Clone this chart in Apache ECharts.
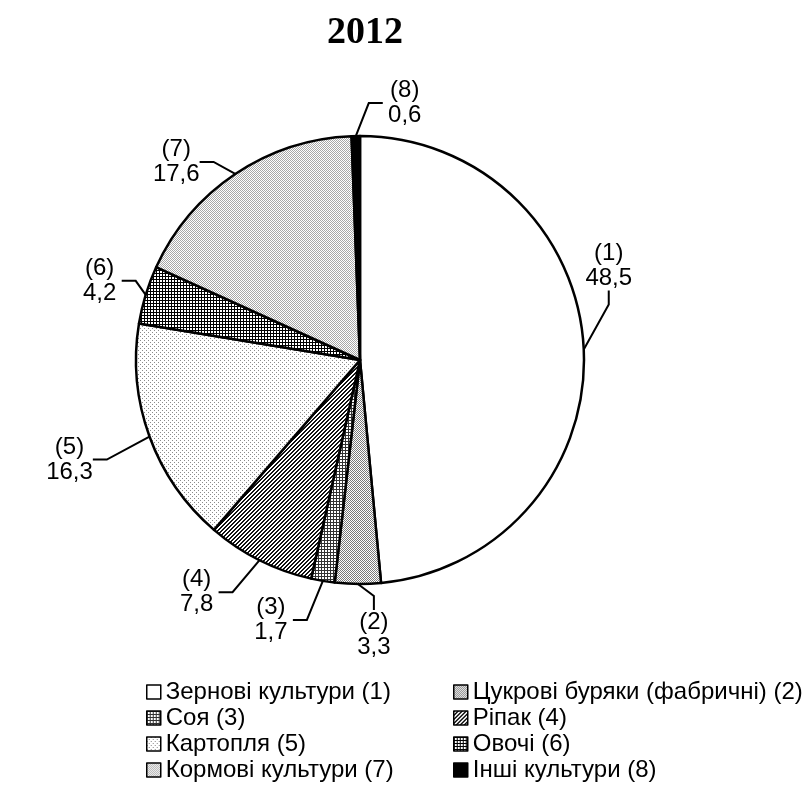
<!DOCTYPE html>
<html><head><meta charset="utf-8">
<script src="https://cdn.jsdelivr.net/npm/echarts@6/dist/echarts.min.js"></script>
<style>html,body{margin:0;padding:0;background:#fff}#c{width:805px;height:804px}</style>
</head><body><div id="c"></div>
<script>
const title = '2012';
const categories = ['Зернові культури (1)','Цукрові буряки (фабричні) (2)','Соя (3)','Ріпак (4)','Картопля (5)','Овочі (6)','Кормові культури (7)','Інші культури (8)'];
const shortLabels = ['(1)','(2)','(3)','(4)','(5)','(6)','(7)','(8)'];
const values = [48.5, 3.3, 1.7, 7.8, 16.3, 4.2, 17.6, 0.6];
const legendLeft = [categories[0], categories[2], categories[4], categories[6]];
const legendRight = [categories[1], categories[3], categories[5], categories[7]];
// label offsets (style): label centre relative to the slice's outer anchor point
const labelOffsets = [[25,-84],[16,51],[-52,39],[-63,32],[-80,23],[-46,-14],[-59,-12],[49,-33]];

function pat(size, draw){
  const c = document.createElement('canvas'); c.width = c.height = size;
  const x = c.getContext('2d'); x.fillStyle = '#fff'; x.fillRect(0,0,size,size);
  draw(x); return {image: c, repeat: 'repeat'};
}
const px = (x, col, pts) => { x.fillStyle = col; pts.forEach(p => x.fillRect(p[0], p[1], 1, 1)); };
const fills = [
  '#ffffff',
  pat(2, x => px(x, '#7a7a7a', [[0,0],[1,1]])),
  pat(3, x => { x.fillStyle = '#333'; x.fillRect(0,0,3,1); x.fillRect(0,0,1,3); }),
  pat(4, x => px(x, '#111', [[0,3],[1,2],[2,1],[3,0],[1,3],[2,2],[3,1],[0,0]])),
  pat(4, x => px(x, '#8a8a8a', [[0,0],[2,2]])),
  pat(3, x => { x.fillStyle = '#000'; x.fillRect(0,0,3,1); x.fillRect(0,0,1,3); }),
  pat(2, x => px(x, '#a8a8a8', [[0,0],[1,1]])),
  '#000000'
];

const chart = echarts.init(document.getElementById('c'), null, {renderer: 'canvas'});
const font = '"Liberation Sans", Arial, sans-serif';
const legendCommon = {
  orient: 'vertical', top: 674, itemWidth: 14, itemHeight: 14, itemGap: 0,
  selectedMode: false, icon: 'rect',
  itemStyle: {borderColor: '#000', borderWidth: 1.5},
  textStyle: {fontFamily: font, fontSize: 24, color: '#000', lineHeight: 26}
};
chart.setOption({
  animation: false,
  backgroundColor: '#fff',
  title: {text: title, left: 360, top: 9, textAlign: 'center',
    textStyle: {fontFamily: '"Liberation Serif", "Times New Roman", serif', fontSize: 38, fontWeight: 'bold', color: '#000'}},
  legend: [
    Object.assign({}, legendCommon, {left: 141, data: legendLeft}),
    Object.assign({}, legendCommon, {left: 448, data: legendRight})
  ],
  series: [{
    type: 'pie',
    center: [360, 360], radius: 224,
    startAngle: 90, clockwise: true,
    avoidLabelOverlap: false,
    itemStyle: {borderColor: '#000', borderWidth: 2.5},
    label: {
      show: true, position: 'outside', color: '#000',
      fontFamily: font, fontSize: 24, lineHeight: 25,
      formatter: p => '{a|' + shortLabels[p.dataIndex] + '}\n{a|' + p.value.toFixed(1).replace('.', ',') + '}',
      rich: {a: {fontFamily: font, fontSize: 24, lineHeight: 25, width: 44, align: 'center', color: '#000'}}
    },
    labelLine: {show: true, length: 10, length2: 14, minTurnAngle: 0, lineStyle: {color: '#000', width: 2}},
    labelLayout: p => {
      const a = p.labelLinePoints[0], o = labelOffsets[p.dataIndex];
      return {x: a[0] + o[0], y: a[1] + o[1], align: 'center', verticalAlign: 'middle'};
    },
    emphasis: {disabled: true},
    data: categories.map((n, i) => ({name: n, value: values[i], itemStyle: {color: fills[i]}}))
  }]
});
</script></body></html>
